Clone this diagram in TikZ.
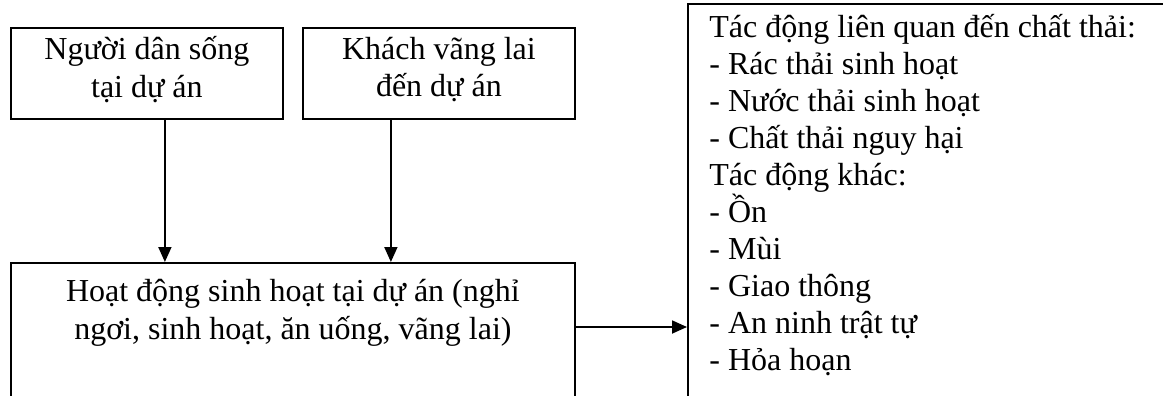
\documentclass[tikz,border=0pt]{standalone}
\usepackage{fontspec}
\setmainfont{Liberation Serif}
\usetikzlibrary{arrows.meta}
\begin{document}
\begin{tikzpicture}[x=0.5pt,y=-0.5pt,
  box/.style={draw, line width=0.9pt, inner sep=0pt},
  arr/.style={-{Triangle[length=7.5pt,width=6.5pt]}, line width=0.9pt},
  txt/.style={font=\fontsize{16pt}{18.8pt}\selectfont, inner sep=0pt}]
\useasboundingbox (0,0) rectangle (1163,396);
\clip (0,0) rectangle (1163,396);
% top boxes
\node[box, anchor=north west, minimum width=136pt, minimum height=45.5pt] (A) at (10,27) {};
\node[txt, align=center] (At) at ([yshift=2pt]A.center) {Người dân sống\\tại dự án};
\node[box, anchor=north west, minimum width=136pt, minimum height=45.5pt] (B) at (302,27) {};
\node[txt, align=center] (Bt) at ([yshift=2pt]B.center) {Khách vãng lai\\đến dự án};
% bottom box
\node[box, anchor=north west, minimum width=282pt, minimum height=100pt] (C) at (10,262) {};
\node[txt, align=center, anchor=north] (Ct) at ([yshift=-8.5pt]C.north) {Hoạt động sinh hoạt tại dự án (nghỉ\\ngơi, sinh hoạt, ăn uống, vãng lai)};
% right box
\node[box, anchor=north west, minimum width=300pt, minimum height=250pt] (R) at (687,3) {};
\node[txt, align=left, anchor=north west, font=\fontsize{16pt}{18.5pt}\selectfont] (Rt) at ([xshift=11pt,yshift=-5.5pt]R.north west) {Tác động liên quan đến chất thải:\\
- Rác thải sinh hoạt\\
- Nước thải sinh hoạt\\
- Chất thải nguy hại\\
Tác động khác:\\
- Ồn\\
- Mùi\\
- Giao thông\\
- An ninh trật tự\\
- Hỏa hoạn};
% connectors
\draw[arr] ([xshift=9pt]A.south) -- ([xshift=9pt]A.south |- C.north);
\draw[arr] ([xshift=-24pt]B.south) -- ([xshift=-24pt]B.south |- C.north);
\draw[arr] ([yshift=-32.5pt]C.north east) -- ([yshift=-32.5pt]C.north east -| R.west);
\end{tikzpicture}
\end{document}
